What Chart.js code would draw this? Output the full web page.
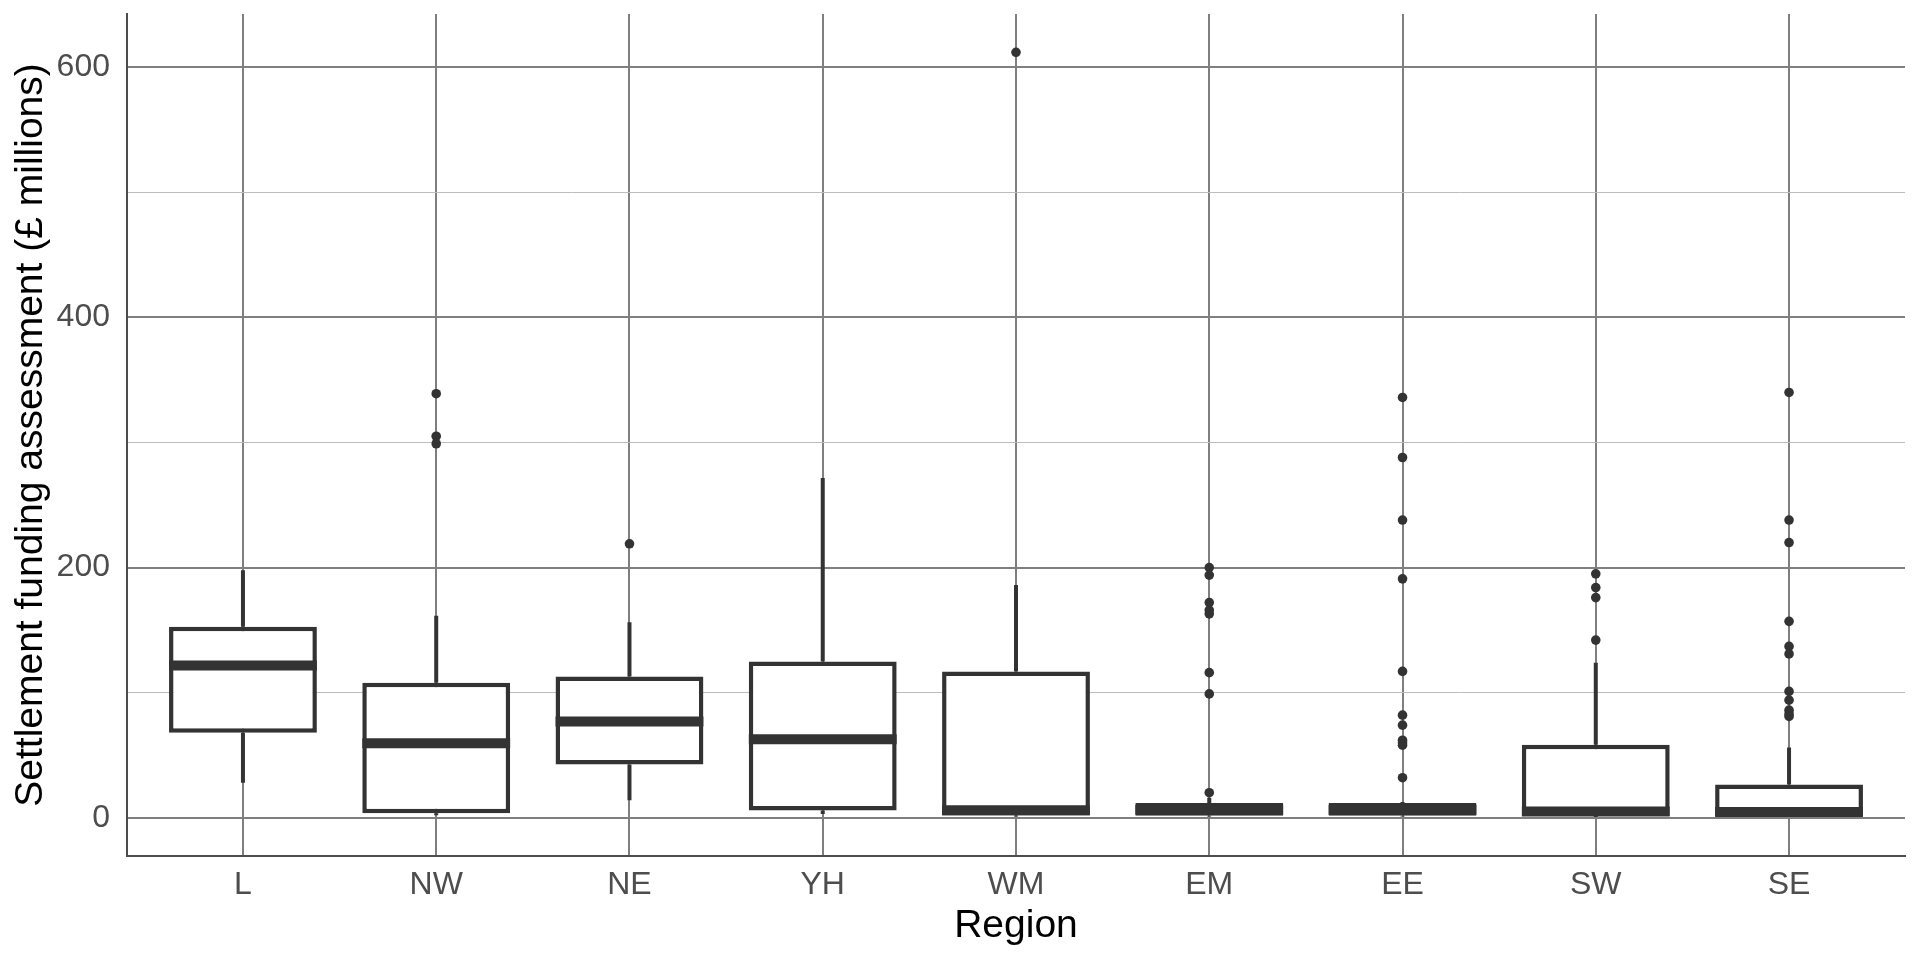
<!DOCTYPE html>
<html>
<head>
<meta charset="utf-8">
<script src="https://cdn.jsdelivr.net/npm/chart.js@4.4.1/dist/chart.umd.min.js"></script>
<style>
  html, body { margin: 0; padding: 0; background: #fff; }
  #wrap { width: 1920px; height: 960px; }
</style>
</head>
<body>
<div id="wrap"><canvas id="boxChart" width="1920" height="960"></canvas></div>
<script>
// Box plot data per region (£ millions)
const categories = ['L', 'NW', 'NE', 'YH', 'WM', 'EM', 'EE', 'SW', 'SE'];
const whiskerLow = [28, 2, 14, 3, 1, 1, 1, 0.5, 0.5];
const q1 = [68, 3.5, 42.5, 5.8, 1.8, 1.6, 1.6, 1.3, 1.3];
const median = [121.7, 59.5, 77, 62.7, 6, 6.4, 6.4, 5, 4.5];
const q3 = [152.6, 108, 112.9, 124.9, 116.9, 11.7, 11.7, 58.4, 26.5];
const whiskerHigh = [197.8, 161.5, 156.2, 271.7, 186, 16, 12.5, 124, 56.2];
const outliers = [
  [],
  [339, 305, 299],
  [219],
  [],
  [612],
  [200, 194, 172, 166, 163, 116, 99, 20],
  [336, 288, 238, 191, 117, 82, 74, 62, 60, 58, 32],
  [195, 184, 176, 142],
  [340, 238, 220, 157, 137, 131, 101, 94, 86, 83, 81]
];
const yTicks = [0, 100, 200, 300, 400, 500, 600];
const yLabelTicks = [0, 200, 400, 600];

const inkColor = '#333333';
const fontFamily = "'Liberation Sans', Arial, sans-serif";

const boxData = categories.map((c, i) => ({ x: i + 1, y: [q1[i], q3[i]] }));
const outlierData = [];
outliers.forEach((vals, i) => {
  vals.forEach(v => outlierData.push({ x: i + 1, y: v }));
});

// whiskers under the boxes, medians on top of them
const boxPlotParts = {
  id: 'boxPlotParts',
  beforeDatasetsDraw(chart) {
    const ctx = chart.ctx;
    const xs = chart.scales.x;
    const ys = chart.scales.y;
    ctx.save();
    ctx.strokeStyle = inkColor;
    ctx.lineWidth = 4;
    ctx.lineCap = 'butt';
    categories.forEach((c, i) => {
      const x = xs.getPixelForValue(i + 1);
      ctx.beginPath();
      ctx.moveTo(x, ys.getPixelForValue(whiskerHigh[i]));
      ctx.lineTo(x, ys.getPixelForValue(q3[i]));
      ctx.moveTo(x, ys.getPixelForValue(q1[i]));
      ctx.lineTo(x, ys.getPixelForValue(whiskerLow[i]));
      ctx.stroke();
    });
    ctx.restore();
  },
  afterDatasetDraw(chart, args) {
    if (args.index !== 0) return;
    const ctx = chart.ctx;
    const ys = chart.scales.y;
    const bars = chart.getDatasetMeta(0).data;
    ctx.save();
    ctx.strokeStyle = inkColor;
    ctx.lineWidth = 10;
    ctx.lineCap = 'butt';
    bars.forEach((bar, i) => {
      const y = ys.getPixelForValue(median[i]);
      ctx.beginPath();
      ctx.moveTo(bar.x - bar.width / 2, y);
      ctx.lineTo(bar.x + bar.width / 2, y);
      ctx.stroke();
    });
    ctx.restore();
  }
};

new Chart(document.getElementById('boxChart').getContext('2d'), {
  type: 'bar',
  data: {
    datasets: [
      {
        type: 'bar',
        data: boxData,
        backgroundColor: '#ffffff',
        borderColor: inkColor,
        borderWidth: 4.5,
        borderSkipped: false,
        categoryPercentage: 1,
        barPercentage: 0.765,
        order: 2
      },
      {
        type: 'scatter',
        data: outlierData,
        backgroundColor: inkColor,
        borderWidth: 0,
        pointRadius: 4.8,
        order: 1
      }
    ]
  },
  options: {
    responsive: false,
    devicePixelRatio: 1,
    animation: false,
    layout: { padding: { top: 14, right: 15, left: 0, bottom: 0 } },
    plugins: {
      legend: { display: false },
      tooltip: { enabled: false }
    },
    scales: {
      x: {
        type: 'linear',
        offset: false,
        min: 0.4,
        max: 9.6,
        afterBuildTicks: (scale) => {
          scale.ticks = categories.map((c, i) => ({ value: i + 1 }));
        },
        afterFit: (scale) => {
          scale.height = 104;
          scale.paddingLeft = 0;
          scale.paddingRight = 0;
        },
        ticks: {
          autoSkip: false,
          maxRotation: 0,
          padding: 10,
          color: '#4d4d4d',
          font: { family: fontFamily, size: 32 },
          callback: (v) => categories[Math.round(v) - 1]
        },
        grid: { offset: false, color: '#7f7f7f', lineWidth: 2, drawTicks: false },
        border: { display: true, color: '#4d4d4d', width: 2 },
        title: {
          display: true,
          text: 'Region',
          color: '#000000',
          font: { family: fontFamily, size: 39 },
          padding: { top: 0, bottom: 10 }
        }
      },
      y: {
        min: -30.6,
        max: 642.6,
        afterBuildTicks: (scale) => {
          scale.ticks = yTicks.map(v => ({ value: v }));
        },
        afterFit: (scale) => {
          scale.width = 127;
          scale.paddingTop = 0;
          scale.paddingBottom = 0;
        },
        ticks: {
          padding: 17,
          color: '#4d4d4d',
          font: { family: fontFamily, size: 32 },
          callback: (v) => (yLabelTicks.includes(v) ? String(v) : '')
        },
        grid: {
          drawTicks: false,
          color: (ctx) => (ctx.tick && yLabelTicks.includes(ctx.tick.value) ? '#7f7f7f' : '#bdbdbd'),
          lineWidth: (ctx) => (ctx.tick && yLabelTicks.includes(ctx.tick.value) ? 2 : 1)
        },
        border: { display: true, color: '#4d4d4d', width: 2 },
        title: {
          display: true,
          text: 'Settlement funding assessment (£ millions)',
          color: '#000000',
          font: { family: fontFamily, size: 39 },
          padding: { top: 8, bottom: 0 }
        }
      }
    }
  },
  plugins: [boxPlotParts]
});
</script>
</body>
</html>
